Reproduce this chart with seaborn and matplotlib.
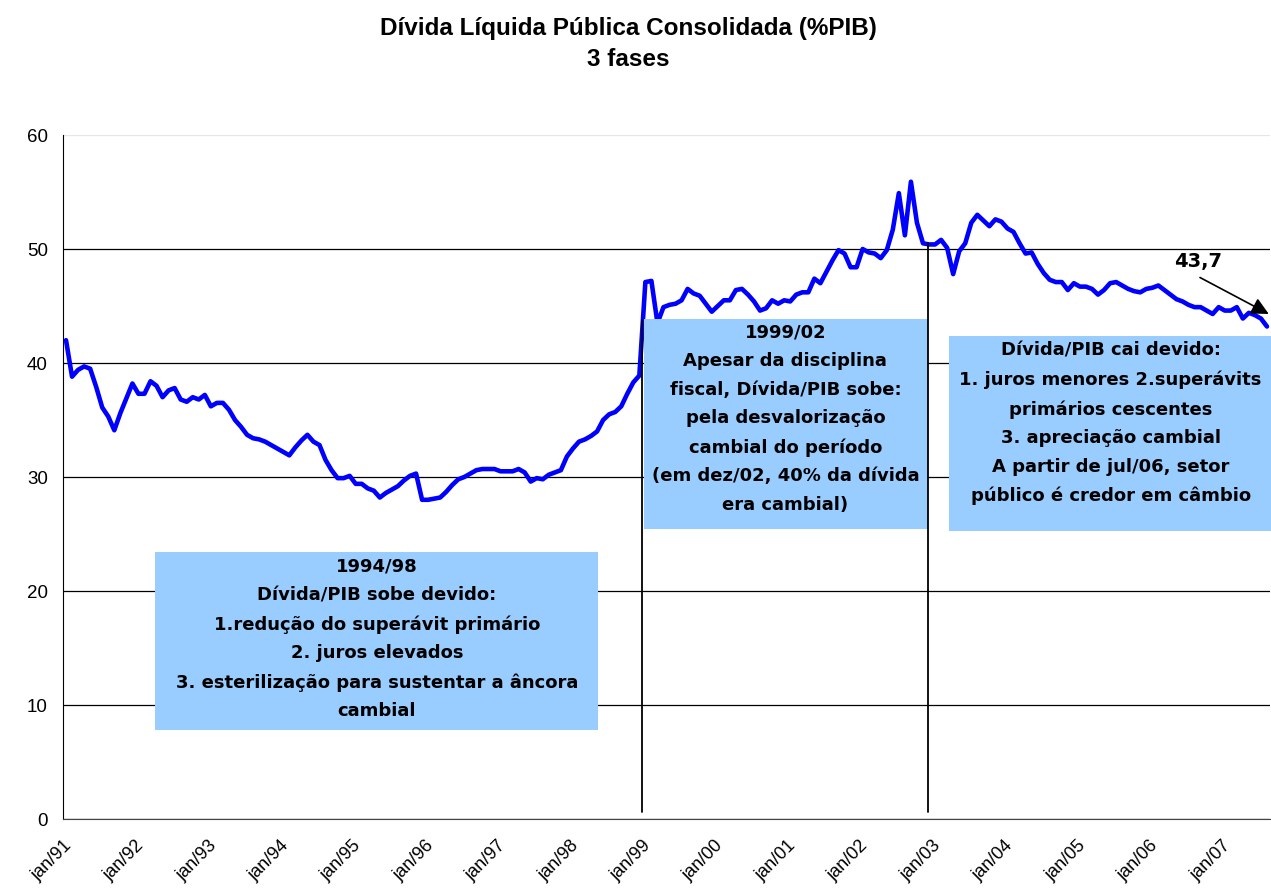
import matplotlib
matplotlib.use("Agg")
import matplotlib.pyplot as plt
from matplotlib.patches import Rectangle
import numpy as np
import pandas as pd
import seaborn as sns

# Dívida líquida do setor público consolidado, % do PIB, mensal jan/91 - ago/07
debt_pct = [
    42.0, 38.8, 39.4, 39.7, 39.5, 37.9, 36.1, 35.3, 34.1, 35.6, 36.9, 38.2,  # 1991
    37.3, 37.3, 38.4, 38.0, 37.0, 37.6, 37.8, 36.8, 36.6, 37.0, 36.8, 37.2,  # 1992
    36.2, 36.5, 36.5, 35.9, 35.0, 34.4, 33.7, 33.4, 33.3, 33.1, 32.8, 32.5,  # 1993
    32.2, 31.9, 32.6, 33.2, 33.7, 33.1, 32.8, 31.5, 30.6, 29.9, 29.9, 30.1,  # 1994
    29.4, 29.4, 29.0, 28.8, 28.2, 28.6, 28.9, 29.2, 29.7, 30.1, 30.3, 28.0,  # 1995
    28.0, 28.1, 28.2, 28.7, 29.3, 29.8, 30.0, 30.3, 30.6, 30.7, 30.7, 30.7,  # 1996
    30.5, 30.5, 30.5, 30.7, 30.4, 29.6, 29.9, 29.8, 30.2, 30.4, 30.6, 31.8,  # 1997
    32.5, 33.1, 33.3, 33.6, 34.0, 35.0, 35.5, 35.7, 36.2, 37.3, 38.3, 38.9,  # 1998
    47.1, 47.2, 43.5, 44.9, 45.1, 45.2, 45.5, 46.5, 46.1, 45.9, 45.2, 44.5,  # 1999
    45.0, 45.5, 45.5, 46.4, 46.5, 46.0, 45.4, 44.6, 44.8, 45.5, 45.2, 45.5,  # 2000
    45.4, 46.0, 46.2, 46.2, 47.4, 47.0, 48.0, 49.0, 49.9, 49.6, 48.4, 48.4,  # 2001
    50.0, 49.7, 49.6, 49.2, 49.9, 51.7, 54.9, 51.2, 55.9, 52.3, 50.5, 50.4,  # 2002
    50.4, 50.8, 50.1, 47.8, 49.8, 50.5, 52.3, 53.0, 52.5, 52.0, 52.6, 52.4,  # 2003
    51.8, 51.5, 50.5, 49.6, 49.7, 48.7, 47.9, 47.3, 47.1, 47.1, 46.4, 47.0,  # 2004
    46.7, 46.7, 46.5, 46.0, 46.4, 47.0, 47.1, 46.8, 46.5, 46.3, 46.2, 46.5,  # 2005
    46.6, 46.8, 46.4, 46.0, 45.6, 45.4, 45.1, 44.9, 44.9, 44.6, 44.3, 44.9,  # 2006
    44.6, 44.6, 44.9, 43.9, 44.4, 44.2, 43.9, 43.2,                          # 2007
]
year_labels = ["jan/91", "jan/92", "jan/93", "jan/94", "jan/95", "jan/96",
               "jan/97", "jan/98", "jan/99", "jan/00", "jan/01", "jan/02",
               "jan/03", "jan/04", "jan/05", "jan/06", "jan/07"]
y_ticks = [0, 10, 20, 30, 40, 50, 60]
last_label = "43,7"

notes = [
    "1994/98\nDívida/PIB sobe devido:\n1.redução do superávit primário\n"
    "2. juros elevados\n3. esterilização para sustentar a âncora\ncambial",
    "1999/02\nApesar da disciplina\nfiscal, Dívida/PIB sobe:\npela desvalorização\n"
    "cambial do período\n(em dez/02, 40% da dívida\nera cambial)",
    "Dívida/PIB cai devido:\n1. juros menores 2.superávits\nprimários cescentes\n"
    "3. apreciação cambial\nA partir de jul/06, setor\npúblico é credor em câmbio",
]

sns.set_style("white")
plt.rcParams["font.family"] = ["Liberation Sans", "DejaVu Sans"]
plt.rcParams["text.color"] = "black"

df = pd.DataFrame({"pos": np.arange(len(debt_pct)) + 0.5, "divida": debt_pct})

fig = plt.figure(figsize=(12.71, 8.92), dpi=100)
ax = fig.add_axes([63 / 1271, 1 - 819 / 892, 1207 / 1271, 684 / 892])

sns.lineplot(data=df, x="pos", y="divida", ax=ax, color="#0000ff", linewidth=3.3,
             zorder=3)

n = len(debt_pct)
ax.set_xlim(0, n)
ax.set_ylim(0, 60)
ax.set_xticks(np.arange(len(year_labels)) * 12)
ax.set_xticklabels(year_labels, rotation=45, ha="right", rotation_mode="anchor",
                   fontsize=13)
ax.set_yticks(y_ticks)
ax.set_yticklabels([str(v) for v in y_ticks], fontsize=13.5)
ax.set_xlabel("")
ax.set_ylabel("")
ax.tick_params(axis="both", direction="out", length=5, width=1, colors="black",
               pad=6)
ax.tick_params(axis="x", pad=8)

ax.grid(axis="y", color="black", linewidth=0.9)
ax.get_ygridlines()[-1].set_color("#e6e6e6")
ax.spines[["top", "right"]].set_visible(False)
ax.spines["left"].set_color("black")
ax.spines["bottom"].set_color("#444444")

# phase boundaries, drawn over the boxes
ax.plot([96, 96], [0.6, 43.8], color="black", lw=1.3, zorder=7)
ax.plot([143.3, 143.3], [0.6, 50.5], color="black", lw=1.3, zorder=7)

# annotation boxes (x0, x1, y0, y1) in data units
boxes = [(15.3, 88.6, 7.8, 23.4), (96.3, 143.3, 25.4, 43.9), (146.8, 200.3, 25.3, 42.4)]
text_pos = [(52.0, 15.8), (119.7, 35.1), (173.6, 34.7)]
for (x0, x1, y0, y1), (tx, ty), note in zip(boxes, text_pos, notes):
    ax.add_patch(Rectangle((x0, y0), x1 - x0, y1 - y0, facecolor="#99ccff",
                           edgecolor="none", zorder=5, clip_on=False))
    ax.text(tx, ty, note, ha="center", va="center", fontsize=13,
            fontweight="bold", linespacing=1.75, zorder=6,
            family=["DejaVu Sans"])

ax.text(188.1, 48.9, last_label, ha="center", va="center", fontsize=14,
        fontweight="bold", family=["DejaVu Sans"], zorder=8)
ax.annotate("", xy=(199.8, 44.3), xytext=(188.4, 47.5),
            arrowprops=dict(arrowstyle="-|>", color="black", lw=1.2,
                            mutation_scale=26, shrinkA=0, shrinkB=0),
            annotation_clip=False, zorder=8)

fig.text(0.4945, 1 - 29 / 892, "Dívida Líquida Pública Consolidada (%PIB)",
         ha="center", va="center", fontsize=17.5, fontweight="bold")
fig.text(0.4945, 1 - 59 / 892, "3 fases", ha="center", va="center",
         fontsize=17.5, fontweight="bold")

fig.savefig("out.png", dpi=100)
